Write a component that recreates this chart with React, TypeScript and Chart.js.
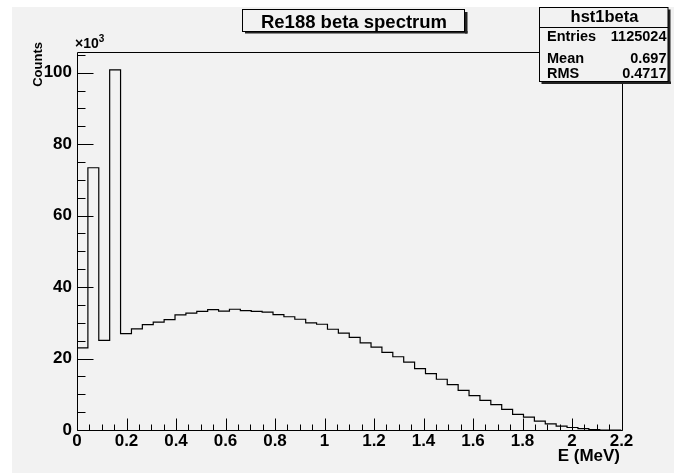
import React, { useEffect, useRef } from 'react';
import { Chart, registerables } from 'chart.js';

Chart.register(...registerables);

const W = 674;
const H = 473;

// Histogram definition (50 bins of 0.044 MeV from 0 to 2.2 MeV)
const X_MIN = 0;
const X_MAX = 2.2;
const BIN_WIDTH = 0.044;
// Bin contents in units of 10^3 counts
const countsK = [
  23.0, 73.4, 25.1, 100.8, 27.0, 28.3, 29.5, 30.2, 30.9, 32.2,
  32.7, 33.2, 33.7, 33.3, 33.8, 33.4, 33.2, 33.0, 32.3, 31.7,
  31.0, 30.0, 29.6, 28.2, 27.1, 25.9, 24.4, 23.2, 21.7, 20.5,
  19.0, 17.2, 15.8, 14.2, 12.7, 11.1, 9.6, 8.3, 7.1, 5.8,
  4.4, 3.6, 2.5, 1.7, 1.1, 0.7, 0.36, 0.1, 0, 0,
];

const X_TICK_STEP = 0.2;
const X_MINOR_STEP = 0.05;
const Y_MIN = 0;
const Y_MAX = 105.8;
const Y_TICK_STEP = 20;
const Y_MINOR_STEP = 5;

const TITLE = 'Re188 beta spectrum';
const X_TITLE = 'E (MeV)';
const Y_TITLE = 'Counts';
const Y_EXP_BASE = '\u00d710';
const Y_EXP_POW = '3';
const STATS_NAME = 'hst1beta';
const STATS_LABELS = ['Entries', 'Mean', 'RMS'];
const STATS_VALUES = ['1125024', '0.697', '0.4717'];

const BG = '#f2f2f2';
const FONT = "'Liberation Sans', Arial, Helvetica, sans-serif";

const rootDecor = {
  id: 'rootDecor',
  beforeDraw(chart: any) {
    const ctx = chart.ctx;
    ctx.save();
    ctx.fillStyle = '#ffffff';
    ctx.fillRect(0, 0, W, H);
    ctx.fillStyle = BG;
    ctx.fillRect(12, 7, W - 12, H - 7);
    ctx.restore();
  },
  afterDraw(chart: any) {
    const ctx = chart.ctx;
    const ca = chart.chartArea;
    const xs = chart.scales.x;
    const ys = chart.scales.y;
    ctx.save();
    ctx.strokeStyle = '#000';
    ctx.lineWidth = 1;
    const L = Math.round(ca.left) + 0.5;
    const R = Math.round(ca.right) + 0.5;
    const T = Math.round(ca.top) + 0.5;
    const B = Math.round(ca.bottom) + 0.5;
    ctx.beginPath();
    ctx.moveTo(L, T); ctx.lineTo(R, T); ctx.lineTo(R, B); ctx.lineTo(L, B); ctx.closePath();
    ctx.stroke();

    // x ticks (inside, upward)
    const nx = Math.round((X_MAX - X_MIN) / X_MINOR_STEP);
    const perMajorX = Math.round(X_TICK_STEP / X_MINOR_STEP);
    ctx.beginPath();
    for (let i = 0; i <= nx; i++) {
      const v = X_MIN + i * X_MINOR_STEP;
      const px = Math.round(xs.getPixelForValue(v)) + 0.5;
      const len = i % perMajorX === 0 ? 12 : 6;
      ctx.moveTo(px, B);
      ctx.lineTo(px, B - len);
    }
    ctx.stroke();

    // y ticks (inside, rightward)
    const ny = Math.floor((Y_MAX - Y_MIN) / Y_MINOR_STEP);
    const perMajorY = Math.round(Y_TICK_STEP / Y_MINOR_STEP);
    ctx.beginPath();
    for (let i = 0; i <= ny; i++) {
      const v = Y_MIN + i * Y_MINOR_STEP;
      const py = Math.round(ys.getPixelForValue(v)) + 0.5;
      const len = i % perMajorY === 0 ? 16 : 8;
      ctx.moveTo(L, py);
      ctx.lineTo(L + len, py);
    }
    ctx.stroke();

    // exponent label
    ctx.fillStyle = '#000';
    ctx.textBaseline = 'alphabetic';
    ctx.textAlign = 'left';
    ctx.font = `bold 14px ${FONT}`;
    ctx.fillText(Y_EXP_BASE, 75, 48);
    const wBase = ctx.measureText(Y_EXP_BASE).width;
    ctx.font = `bold 10px ${FONT}`;
    ctx.fillText(Y_EXP_POW, 75 + wBase, 42);

    // axis titles
    ctx.font = `bold 17px ${FONT}`;
    ctx.textAlign = 'right';
    ctx.fillText(X_TITLE, 620, 461);

    ctx.save();
    ctx.translate(41.5, 42);
    ctx.rotate(-Math.PI / 2);
    ctx.font = `bold 13px ${FONT}`;
    ctx.textAlign = 'right';
    ctx.fillText(Y_TITLE, 0, 0);
    ctx.restore();

    // title box
    ctx.fillStyle = '#222';
    ctx.fillRect(245, 31, 222.5, 2.5);
    ctx.fillRect(465, 12, 2.5, 21.5);
    ctx.fillStyle = BG;
    ctx.fillRect(243, 9.5, 222, 22);
    ctx.strokeStyle = '#000';
    ctx.strokeRect(242.5, 9.5, 222, 22);
    ctx.fillStyle = '#000';
    ctx.font = `bold 18.5px ${FONT}`;
    ctx.textAlign = 'center';
    ctx.fillText(TITLE, 354, 28);

    // stats box
    const sx = 539.5, sy = 7.5, sw = 128.5, sh = 74;
    ctx.fillStyle = '#222';
    ctx.fillRect(sx + 2, sy + sh, sw + 1, 2.5);
    ctx.fillRect(sx + sw, sy + 2, 2.5, sh + 0.5);
    ctx.fillStyle = BG;
    ctx.fillRect(sx, sy, sw, sh);
    ctx.strokeStyle = '#000';
    ctx.strokeRect(sx, sy, sw, sh);
    ctx.beginPath();
    ctx.moveTo(sx, 27.5);
    ctx.lineTo(sx + sw, 27.5);
    ctx.stroke();
    ctx.fillStyle = '#000';
    ctx.font = `bold 16.5px ${FONT}`;
    ctx.textAlign = 'center';
    ctx.fillText(STATS_NAME, 604.5, 22);
    const rowsY = [40.5, 62.5, 77.5];
    ctx.font = `bold 14.5px ${FONT}`;
    STATS_LABELS.forEach((lab, i) => {
      ctx.textAlign = 'left';
      ctx.fillText(lab, 547, rowsY[i]);
      ctx.textAlign = 'right';
      ctx.fillText(STATS_VALUES[i], 666.5, rowsY[i]);
    });
    ctx.restore();
  },
};

export default function App() {
  const ref = useRef<HTMLCanvasElement>(null);
  useEffect(() => {
    const points = countsK.map((v, i) => ({ x: X_MIN + i * BIN_WIDTH, y: v }));
    points.push({ x: X_MAX, y: 0 });
    const tickFont = { family: FONT, size: 17, weight: 'bold' as const };
    const chart = new Chart(ref.current as HTMLCanvasElement, {
      type: 'line',
      data: {
        datasets: [
          {
            data: points,
            stepped: 'before',
            borderColor: '#000',
            borderWidth: 1.2,
            pointRadius: 0,
            fill: false,
            tension: 0,
          },
        ],
      },
      options: {
        responsive: false,
        devicePixelRatio: 1,
        animation: false,
        events: [],
        layout: { padding: { left: 0, top: 52, right: 52.5, bottom: 0 } },
        plugins: { legend: { display: false }, tooltip: { enabled: false }, title: { display: false } },
        scales: {
          x: {
            type: 'linear',
            min: X_MIN,
            max: X_MAX,
            grid: { display: false, drawTicks: false },
            border: { display: false },
            ticks: {
              stepSize: X_TICK_STEP,
              includeBounds: false,
              autoSkip: false,
              maxRotation: 0,
              padding: 1,
              color: '#000',
              font: tickFont,
              callback: (v: any) => String(Math.round(Number(v) * 10) / 10),
            },
            afterFit(scale: any) {
              scale.height = 43;
            },
          },
          y: {
            type: 'linear',
            min: Y_MIN,
            max: Y_MAX,
            grid: { display: false, drawTicks: false },
            border: { display: false },
            ticks: {
              stepSize: Y_TICK_STEP,
              includeBounds: false,
              padding: 5,
              color: '#000',
              font: tickFont,
              callback: (v: any) => String(Math.round(Number(v))),
            },
            afterFit(scale: any) {
              scale.width = 77;
            },
          },
        },
      },
      plugins: [rootDecor],
    } as any);
    return () => chart.destroy();
  }, []);
  return (
    <div style={{ position: 'absolute', left: 0, top: 0, width: W, height: H }}>
      <canvas ref={ref} width={W} height={H} style={{ display: 'block', width: W, height: H }} />
    </div>
  );
}
